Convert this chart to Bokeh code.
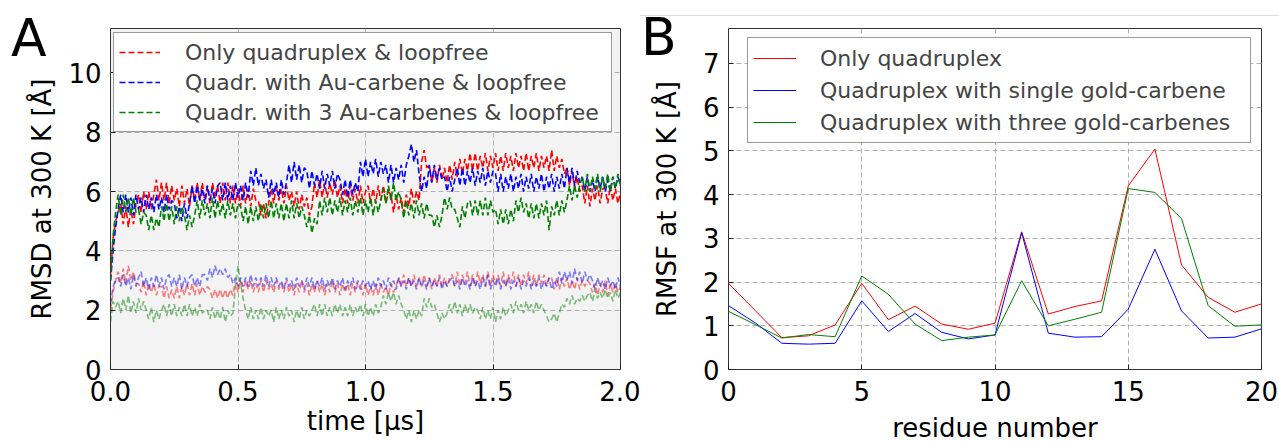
import numpy as np
from bokeh.plotting import figure
from bokeh.layouts import GridBox
from bokeh.models import Legend, LegendItem, FixedTicker, PrintfTickFormatter, Div
from bokeh.embed import file_html
from bokeh.resources import INLINE

# ---------------- Panel A: RMSD time series (time in microseconds) -------------
rmsd_only = [3.2, 4.4, 5.0, 5.3,
 5.6, 4.9, 5.5, 4.8, 5.4, 4.9, 5.6,
 5.9, 5.3, 6.0, 5.4, 6.0, 5.4, 5.9,
 6.4, 5.7, 6.3, 5.7, 6.3, 5.6, 6.2, 5.7,
 6.1, 5.5, 6.2, 5.6, 6.1, 5.5, 6.2, 5.7,
 6.3, 5.7, 6.3, 5.7, 6.2, 5.6, 6.3, 5.8,
 6.2, 5.6, 6.3, 5.7, 6.3, 5.6, 6.2, 5.6,
 6.1, 5.5, 6.2, 5.6, 6.1, 5.5, 6.1, 5.7,
 5.7, 5.2, 5.6, 5.1, 5.6,
 6.1, 5.6, 6.2, 5.7, 6.1, 5.6, 6.2, 5.7,
 6.0, 5.5, 6.0, 5.4, 5.9, 5.5, 5.8, 5.2, 5.5,
 6.3, 5.8, 6.4, 5.8, 6.3, 5.8, 6.3, 5.9, 6.4, 5.8,
 6.2, 5.6, 6.1, 5.6, 6.2, 5.7, 6.1, 5.6, 6.2, 5.6, 6.0,
 6.2, 5.6, 6.1, 5.6, 6.2, 5.7, 6.2, 5.6, 6.0,
 5.9, 5.3, 5.9, 5.4, 5.8, 5.3, 5.9, 5.5,
 6.1, 5.6, 6.0, 5.7,
 7.0, 7.4, 6.8,
 6.9, 6.3, 6.8, 6.3, 6.9, 6.4, 6.8, 6.3, 6.9, 6.4,
 7.0, 6.5, 7.1, 6.6, 7.1, 6.7,
 7.3, 6.7, 7.3, 6.7, 7.2, 6.8, 7.3, 6.7, 7.2, 6.8,
 7.3, 6.7, 7.2, 6.7, 7.3, 6.8, 7.2, 6.7, 7.3, 6.8,
 7.2, 6.7, 7.3, 6.7, 7.2, 6.8, 7.3, 6.7, 7.2, 6.8,
 7.2, 6.7, 7.4, 6.7, 7.2, 6.8, 7.1, 6.6,
 6.8, 6.2, 6.7, 6.1, 6.5, 6.0,
 6.2, 5.6, 6.2, 5.5, 6.1, 5.7, 6.2, 5.6, 6.1,
 6.1, 5.6, 6.2, 5.7, 6.1, 5.6, 6.0]

rmsd_au1 = [3.0, 4.0, 4.8, 5.4,
 5.9, 5.3, 5.9, 5.3, 5.8, 5.2, 5.9, 5.4,
 5.8, 5.3, 5.9, 5.4, 5.8, 5.3, 5.9, 5.4, 5.8, 5.3, 5.9, 5.4, 5.7,
 5.6, 5.1, 5.5, 5.0, 5.6, 5.1, 5.6,
 6.2, 5.6, 6.2, 5.7, 6.1, 5.6, 6.2, 5.7, 6.1, 5.6, 6.2,
 6.3, 5.7, 6.3, 5.7, 6.2, 5.7, 6.3, 5.8, 6.2, 5.7, 6.3, 5.8,
 6.7, 6.2, 6.8, 6.2, 6.6, 6.1,
 6.4, 5.8, 6.4, 5.9, 6.3, 5.8, 6.4, 5.9, 6.3,
 6.9, 6.3, 7.0, 6.4, 6.9, 6.3, 6.8,
 6.7, 6.1, 6.7, 6.2, 6.6, 6.1, 6.7, 6.1, 6.6, 6.2, 6.7, 6.1, 6.6,
 6.4, 5.9, 6.4, 5.8, 6.4, 5.9, 6.3, 6.0,
 7.0, 6.5, 7.1, 6.5, 7.0, 6.6, 7.1, 6.5, 7.0, 6.6,
 6.9, 6.3, 6.9, 6.3, 6.8, 6.4, 6.9, 6.3, 6.9,
 7.2, 7.6, 7.0, 7.4,
 6.6, 6.0, 6.5, 6.1,
 6.9, 6.3, 6.9, 6.4, 6.8, 6.4,
 6.5, 6.0, 6.5, 6.0, 6.4,
 6.8, 6.2, 6.8, 6.2, 6.7, 6.3, 6.8, 6.2, 6.7, 6.3, 6.8, 6.2, 6.7, 6.3, 6.7,
 6.6, 6.0, 6.6, 6.0, 6.5, 6.1, 6.6, 6.0, 6.5, 6.1, 6.6, 6.0, 6.5, 6.1,
 6.6, 6.0, 6.5, 6.1, 6.6, 6.0, 6.5, 6.1, 6.6, 6.0, 6.5, 6.1, 6.6, 6.1,
 6.8, 6.3, 6.8, 6.2, 6.7, 6.3,
 6.5, 6.0, 6.5, 6.0, 6.4, 6.0, 6.5, 6.1, 6.5, 6.0, 6.4, 6.0, 6.5, 6.1, 6.5, 6.2]

rmsd_au3 = [3.0, 4.5, 5.3,
 5.9, 5.2, 5.9, 5.3, 5.8, 5.2, 5.8, 5.3,
 5.4, 4.9, 5.3,
 5.2, 4.7, 5.2, 4.7, 5.1, 4.8,
 5.5, 5.0, 5.6, 5.0, 5.5, 4.9, 5.5, 5.0, 5.5,
 5.2, 4.7, 5.2, 4.8, 5.2,
 5.7, 5.1, 5.7, 5.2, 5.6, 5.1, 5.8, 5.1, 5.7, 5.2, 5.6, 5.1, 5.7, 5.2, 5.6, 5.1, 5.6,
 5.5, 5.0, 5.5, 4.9, 5.5, 5.0, 5.5, 5.0, 5.6, 5.1,
 5.6, 5.1, 5.7, 5.1, 5.6, 5.1, 5.6, 5.0, 5.6, 5.1, 5.7, 5.1, 5.6, 5.1, 5.5,
 5.2, 4.8, 5.2, 4.6, 5.1, 4.9,
 5.7, 5.2, 5.8, 5.3, 5.8, 5.2, 5.7, 5.3, 5.8, 5.2, 5.7, 5.3, 5.8, 5.2, 5.7, 5.3, 5.8, 5.2, 5.7, 5.3, 5.8, 5.2, 5.7, 5.3, 5.7,
 6.1, 5.6, 6.2, 5.7, 6.3, 5.7, 6.0,
 5.7, 5.1, 5.7, 5.2, 5.6, 5.1, 5.7, 5.2, 5.6, 5.1, 5.6, 5.2,
 5.2, 4.8, 5.2, 4.8, 5.2,
 5.8, 5.4, 5.8, 5.4,
 5.4, 5.1, 4.8, 5.5, 5.1, 5.6,
 5.7, 5.2, 5.7, 5.2, 5.7, 5.2, 5.8, 5.2, 5.7, 5.3,
 5.4, 4.9, 5.4, 4.9, 5.4, 4.9, 5.4, 5.0,
 5.7, 5.3, 5.8, 5.3,
 5.6, 5.1, 5.6, 5.1, 5.6, 5.1, 5.6, 5.2,
 5.7, 4.7, 5.5, 5.2, 5.7, 5.2, 5.7, 5.3, 5.7,
 6.2, 5.7, 6.2, 5.8, 6.2,
 6.5, 6.0, 6.6, 6.0, 6.5, 6.1, 6.6, 6.0, 6.5, 6.1, 6.6, 6.0, 6.5, 6.1, 6.6, 6.2]

rmsd_only_low = [2.0, 2.6, 3.0,
 3.3, 2.9, 3.4, 2.9, 3.5, 3.0, 3.3, 2.9,
 2.9, 2.6, 3.0, 2.5, 2.9, 2.6, 2.9, 2.5, 2.8,
 2.8, 2.4, 2.8, 2.4, 2.7, 2.4, 2.8, 2.4, 2.8, 2.5,
 2.9, 2.5, 2.9, 2.5, 2.9, 2.5, 2.8, 2.6, 2.8,
 2.7, 2.4, 2.7, 2.4, 2.7, 2.4, 2.7, 2.4, 2.7, 2.5,
 3.0, 2.6, 3.0, 2.6, 3.0, 2.7, 3.0, 2.6, 2.9, 2.6, 3.0, 2.6, 3.0, 2.7, 2.9, 2.6, 3.0, 2.7,
 2.9, 2.6, 3.0, 2.6, 2.9, 2.5, 2.9, 2.6, 3.0, 2.6, 2.9, 2.5, 2.9, 2.6, 3.0, 2.6,
 2.9, 2.5, 2.9, 2.6, 3.0, 2.6, 2.9, 2.5, 2.9, 2.6, 2.9, 2.5, 2.9, 2.6, 2.9,
 2.9, 2.5, 2.9, 2.5, 2.8, 2.5, 2.9, 2.5, 2.9, 2.6, 2.8, 2.5, 2.9, 2.6, 2.8,
 3.1, 2.8, 3.2, 2.8, 3.1, 2.8, 3.2, 2.8, 3.1, 2.8, 3.2, 2.8, 3.1, 2.7, 3.1, 2.8, 3.2, 2.8, 3.1, 2.8, 3.1,
 3.2, 2.8, 3.3, 2.8, 3.2, 2.9, 3.3, 2.8, 3.2, 2.8, 3.3, 2.9, 3.2, 2.8, 3.3, 2.8, 3.2, 2.9, 3.2, 2.8,
 3.3, 2.8, 3.2, 2.9, 3.3, 2.8, 3.2, 2.8, 3.2, 2.9, 3.3, 2.8, 3.2, 2.8, 3.2, 2.9, 3.2, 2.8, 3.1,
 3.1, 2.7, 3.1, 2.7, 3.1, 2.8, 3.1, 2.7, 3.0, 2.7, 3.1, 2.7, 3.0, 2.8, 3.0,
 2.9, 2.6, 2.9, 2.5, 2.9, 2.6, 3.0, 2.5, 2.9, 2.6, 2.9, 2.6, 2.8]

rmsd_au1_low = [2.2, 2.8, 3.0,
 3.1, 2.8, 3.2, 2.8, 3.1, 2.7, 3.2, 2.8, 3.1, 3.3, 2.8, 3.1, 2.7, 3.1, 2.8, 3.2, 2.8,
 3.1, 2.7, 3.1, 3.2, 2.8, 3.1, 2.8, 3.2, 2.7, 3.1, 2.8, 3.1, 3.2, 2.8, 3.1, 2.8, 3.2,
 3.2, 3.0, 3.4, 3.1, 3.5, 3.2, 3.4, 3.2, 3.4, 3.1, 3.2, 2.9,
 3.1, 2.8, 3.1, 2.8, 3.1, 2.8, 3.2, 2.8, 3.1, 2.8, 3.1, 2.8, 3.2, 2.8, 3.1, 2.8, 3.1, 2.8,
 3.0, 2.7, 3.1, 2.8, 3.0, 2.7, 3.1, 2.8, 3.0, 2.7,
 3.1, 2.8, 3.1, 2.7, 3.0, 2.8, 3.1, 2.7, 3.0, 2.8,
 3.1, 2.7, 3.0, 2.8, 3.1, 2.7, 3.0, 2.8, 3.1, 2.7,
 3.0, 2.7, 3.0, 2.8, 3.0, 2.7, 3.0, 2.7, 3.1, 2.8,
 3.0, 2.7, 3.1, 2.8, 3.0, 2.7, 3.1, 2.8, 3.0, 2.7,
 3.1, 2.8, 3.0, 2.7, 3.1, 2.8, 3.0, 2.7, 3.1, 2.8,
 3.0, 2.8, 3.1, 2.7, 3.0, 2.8, 3.0,
 3.1, 2.8, 3.0, 2.7, 3.1, 2.8, 3.0, 2.7, 3.1, 2.8,
 3.0, 2.7, 3.1, 2.8, 3.2, 2.7, 3.0, 2.8, 3.1, 2.7,
 3.0, 2.8, 3.1, 2.7, 3.0, 2.8, 3.1, 2.7, 3.0, 2.8,
 3.1, 2.7, 3.0, 2.8, 3.1, 2.7, 3.0, 2.8, 3.1, 2.7,
 3.0, 2.8,
 3.3, 2.9, 3.3, 3.0, 3.3, 2.9, 3.4, 3.0, 3.3, 2.9, 3.3, 3.0, 3.2,
 3.0, 2.7, 3.1, 2.8, 3.0, 2.7, 3.1, 2.8, 3.0, 2.7, 3.1, 2.8]

rmsd_au3_low = [1.6, 2.3, 2.1,
 2.3, 1.9, 2.4, 2.0, 2.5, 1.9, 2.3, 1.9, 2.4, 2.0, 2.3,
 2.0, 1.7, 2.1, 1.6, 2.0, 1.7, 2.0,
 2.2, 1.8, 2.2, 1.8, 2.2, 1.8, 2.1, 1.8, 2.2, 1.8, 2.2, 1.8, 2.1, 1.8, 2.2, 1.9, 2.0,
 2.0, 1.7, 2.1, 1.7, 2.0, 1.7, 2.1, 1.6, 2.0, 1.8, 1.9,
 2.8, 3.5, 2.9, 2.4,
 2.0, 1.7, 2.1, 1.7, 2.0, 1.7, 2.1, 1.7, 2.0, 1.8, 2.0, 1.6, 2.1, 1.7, 2.0, 1.7, 2.1, 1.8, 2.0, 1.6,
 2.0, 1.7, 2.1, 1.7, 2.0, 1.8, 2.0,
 2.2, 1.8, 2.2, 1.8, 2.2, 1.8, 2.1, 1.8, 2.2, 1.9, 2.2, 1.8, 2.1, 1.8, 2.2, 1.8, 2.1, 1.9, 2.2, 1.8,
 2.2, 1.8, 2.1, 1.8, 2.2, 1.9, 2.1,
 2.5, 2.2, 2.6, 2.3, 2.6, 2.2, 2.5, 2.2,
 2.0, 1.7, 2.0, 1.6, 2.0, 1.7, 2.0, 1.8,
 2.4, 2.1, 2.4, 2.1, 2.2,
 1.9, 1.6, 1.9, 1.7, 1.9,
 2.2, 1.9, 2.3, 1.9, 2.2, 1.8, 2.2, 1.9, 2.2, 1.9, 2.1,
 2.0, 1.7, 2.1, 1.7, 2.0, 1.7, 2.1, 1.6, 2.0, 1.7, 2.1, 1.8, 2.0,
 2.2, 1.9, 2.3, 2.0, 2.2, 1.9, 2.3, 2.0, 2.2, 1.9, 2.3, 2.0, 2.2, 2.0,
 1.8, 1.6, 1.7, 1.9, 1.6, 1.9,
 2.2, 2.1, 2.4, 2.2, 2.5, 2.2, 2.4, 2.3, 2.5, 2.3, 2.5,
 2.6, 2.3, 2.7, 2.4, 2.6, 2.4, 2.7, 2.4, 2.6, 2.3, 2.7, 2.4, 2.6]

labels_a = ["Only quadruplex & loopfree",
            "Quadr. with Au-carbene & loopfree",
            "Quadr. with 3 Au-carbenes & loopfree"]

# ---------------- Panel B: RMSF per residue -------------
residues = list(range(21))
rmsf_only = [1.97, 1.35, 0.73, 0.77, 1.02, 1.97, 1.14, 1.45, 1.04, 0.92, 1.06,
             3.15, 1.27, 1.44, 1.57, 4.20, 5.04, 2.39, 1.65, 1.31, 1.50]
rmsf_single = [1.46, 1.07, 0.60, 0.58, 0.60, 1.57, 0.87, 1.28, 0.85, 0.70, 0.79,
               3.13, 0.83, 0.74, 0.75, 1.38, 2.75, 1.34, 0.72, 0.74, 0.93]
rmsf_three = [1.33, 1.03, 0.72, 0.80, 0.75, 2.14, 1.72, 1.04, 0.66, 0.74, 0.79,
              2.03, 1.00, 1.15, 1.31, 4.14, 4.05, 3.45, 1.46, 0.99, 1.02]
labels_b = ["Only quadruplex",
            "Quadruplex with single gold-carbene",
            "Quadruplex with three gold-carbenes"]

colors = ["#ff0000", "#0000ff", "#008000"]
FONT = "DejaVu Sans"
TICK_FS = "26px"
LABEL_FS = "26px"
GRID_COLOR = "#b0b0b0"


def style(p):
    p.outline_line_color = "#333333"
    p.outline_line_width = 1
    for ax in (p.xaxis[0], p.yaxis[0]):
        ax.axis_line_color = None
        ax.major_tick_in = 5
        ax.major_tick_out = 0
        ax.minor_tick_line_color = None
        ax.major_tick_line_color = "#222222"
        ax.major_label_text_font = FONT
        ax.major_label_text_font_size = TICK_FS
        ax.major_label_text_color = "black"
        ax.axis_label_text_font = FONT
        ax.axis_label_text_font_size = LABEL_FS
        ax.axis_label_text_font_style = "normal"
        ax.axis_label_text_color = "black"
    for g in (p.xgrid[0], p.ygrid[0]):
        g.grid_line_color = GRID_COLOR
        g.grid_line_dash = "5 3"
        g.grid_line_width = 1


def style_legend(leg, glyph_w, row_h, standoff, label_w):
    leg.label_text_font = FONT
    leg.label_text_font_size = "22px"
    leg.padding = 5
    leg.spacing = 2
    leg.glyph_width = glyph_w
    leg.glyph_height = row_h
    leg.label_height = row_h
    leg.label_standoff = standoff
    leg.label_width = label_w
    leg.border_line_color = "#333333"
    leg.border_line_width = 1
    leg.background_fill_color = "white"
    leg.background_fill_alpha = 1.0
    leg.margin = 0


# ---------- figure A ----------
pA = figure(width=640, height=441, x_range=(0, 2.0), y_range=(0, 11.5),
            output_backend="svg", toolbar_location=None,
            min_border_left=110, min_border_right=20, min_border_top=25, min_border_bottom=72,
            background_fill_color="#f3f3f3", border_fill_color="white")
style(pA)
pA.xaxis.ticker = FixedTicker(ticks=[0, 0.5, 1.0, 1.5, 2.0])
pA.xaxis.formatter = PrintfTickFormatter(format="%.1f")
pA.yaxis.ticker = FixedTicker(ticks=[0, 2, 4, 6, 8, 10])
pA.xaxis.axis_label = "time [µs]"
pA.yaxis.axis_label = "RMSD at 300 K [Å]"
pA.xaxis.major_label_standoff = 11
pA.xaxis.axis_label_standoff = 2
pA.yaxis.major_label_standoff = 9
pA.yaxis.axis_label_standoff = 8

renderers_a = []
for vals, c in zip([rmsd_only, rmsd_au1, rmsd_au3], colors):
    t = np.linspace(0, 2.0, len(vals))
    renderers_a.append(pA.line(t, vals, line_color=c, line_width=1.6, line_dash="6 3"))
for vals, c in zip([rmsd_only_low, rmsd_au1_low, rmsd_au3_low], colors):
    t = np.linspace(0, 2.0, len(vals))
    pA.line(t, vals, line_color=c, line_width=1.6, line_dash="6 3", line_alpha=0.5)

legA = Legend(items=[LegendItem(label=l, renderers=[r]) for l, r in zip(labels_a, renderers_a)],
              location=(3, 237), orientation="vertical")
style_legend(legA, 41, 28, 25, 421)
pA.add_layout(legA, "center")

# ---------- figure B ----------
pB = figure(width=639, height=441, x_range=(0, 20), y_range=(0, 7.8),
            output_backend="svg", toolbar_location=None,
            min_border_left=88, min_border_right=18, min_border_top=28, min_border_bottom=72,
            background_fill_color="white", border_fill_color="white")
style(pB)
pB.xaxis.ticker = FixedTicker(ticks=[0, 5, 10, 15, 20])
pB.yaxis.ticker = FixedTicker(ticks=[0, 1, 2, 3, 4, 5, 6, 7])
pB.yaxis.axis_label = "RMSF at 300 K [Å]"
pB.xaxis.major_label_standoff = 11
pB.yaxis.major_label_standoff = 9
pB.yaxis.axis_label_standoff = 18

renderers_b = []
for vals, c in zip([rmsf_only, rmsf_single, rmsf_three], colors):
    renderers_b.append(pB.line(residues, vals, line_color=c, line_width=1))

legB = Legend(items=[LegendItem(label=l, renderers=[r]) for l, r in zip(labels_b, renderers_b)],
              location=(19, 226), orientation="vertical")
style_legend(legB, 43, 30, 24, 425)
pB.add_layout(legB, "center")

# ---------- panel letters and B x-axis title (overlaid in the same grid cells) ----------
letter_css = "font-family:DejaVu Sans;font-size:52px;line-height:52px;color:black;"
divA = Div(text='<div style="%s padding:12px 0 0 11px;">A</div>' % letter_css,
           width=70, height=70, margin=(0, 0, 0, 0))
divB = Div(text='<div style="width:639px;height:16px;border-bottom:1px solid #dcdcdc;"></div>'
                '<div style="%s margin:-5px 0 0 1px;">B</div>' % letter_css,
           width=639, height=70, margin=(0, 0, 0, 0))
divBx = Div(text='<div style="box-sizing:border-box;font-family:DejaVu Sans;font-size:26px;line-height:26px;'
                 'color:black;padding:415px 0 0 71px;width:639px;text-align:center;white-space:nowrap;">'
                 'residue number</div>',
            width=639, height=441, margin=(0, 0, 0, 0))

layout = GridBox(children=[(pA, 0, 0), (pB, 0, 1), (divA, 0, 0), (divB, 0, 1), (divBx, 0, 1)], spacing=0)
open("out.html", "w").write(file_html(layout, INLINE))
